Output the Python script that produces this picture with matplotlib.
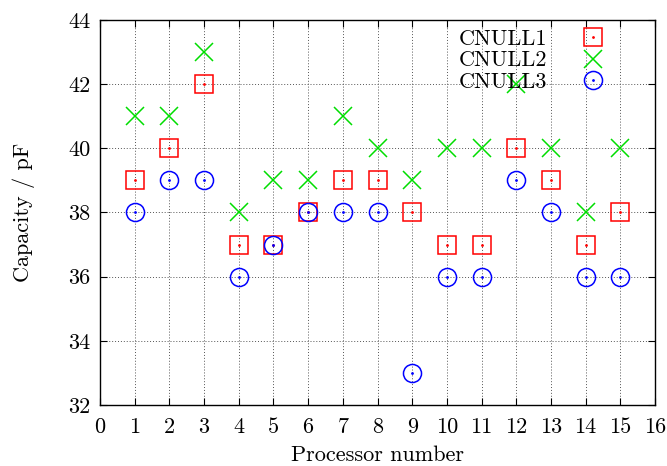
import matplotlib.pyplot as plt
from matplotlib.legend_handler import HandlerTuple

plt.rcParams['font.family'] = 'cmr10'
plt.rcParams['axes.unicode_minus'] = False
plt.rcParams['mathtext.fontset'] = 'cm'

# Processor numbers and capacity per configuration
proc = [1, 2, 3, 4, 5, 6, 7, 8, 9, 10, 11, 12, 13, 14, 15]
cnull1 = [39, 40, 42, 37, 37, 38, 39, 39, 38, 37, 37, 40, 39, 37, 38]
cnull2 = [41, 41, 43, 38, 39, 39, 41, 40, 39, 40, 40, 42, 40, 38, 40]
cnull3 = [38, 39, 39, 36, 37, 38, 38, 38, 33, 36, 36, 39, 38, 36, 36]

fig = plt.figure(figsize=(6.67, 4.66), dpi=100)
ax = fig.add_axes([0.150, 0.131, 0.832, 0.826])

h1, = ax.plot(proc, cnull1, ls='none', marker='s', ms=13, mfc='none', mec='#ff0000', mew=1.1)
d1, = ax.plot(proc, cnull1, ls='none', marker='o', ms=1.0, color='#ff0000')
h2, = ax.plot(proc, cnull2, ls='none', marker='x', ms=13, color='#00dd00', mew=1.1)
h3, = ax.plot(proc, cnull3, ls='none', marker='o', ms=13, mfc='none', mec='#0000ff', mew=1.1)
d3, = ax.plot(proc, cnull3, ls='none', marker='o', ms=1.0, color='#0000ff')

ax.set_xlim(0, 16)
ax.set_ylim(32, 44)
ax.set_xticks(range(0, 17))
ax.set_yticks(range(32, 45, 2))
ax.grid(True, ls=(0, (1, 2)), color='#555555', lw=0.7)
ax.tick_params(direction='in', top=True, right=True, length=5, labelsize=16)
ax.tick_params(axis='x', pad=9)
ax.tick_params(axis='y', pad=7)
for s in ax.spines.values():
    s.set_linewidth(1.0)

ax.set_xlabel('Processor number', fontsize=16, labelpad=6)
ax.set_ylabel('Capacity / pF', fontsize=16, labelpad=24)

ax.legend([(h1, d1), h2, (h3, d3)], ['CNULL1', 'CNULL2', 'CNULL3'],
          handler_map={tuple: HandlerTuple(ndivide=1, pad=0)},
          loc='upper right', bbox_to_anchor=(0.946, 1.017), frameon=False,
          markerfirst=False, fontsize=16, handlelength=1.5, handletextpad=1.3,
          labelspacing=0.1, borderpad=0.2)

fig.savefig('out.png', dpi=100)
